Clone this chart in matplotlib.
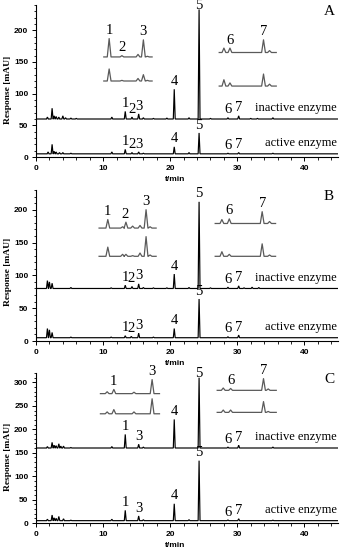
import matplotlib
matplotlib.use('Agg')
import matplotlib.pyplot as plt
from matplotlib.ticker import MultipleLocator

# ---------------- data ----------------
XMAX = 45

# Panel A
A_inact_base = 60
A_inact_t = [1.7, 2.4, 2.7, 3.0, 3.4, 4.0, 4.4, 5.2, 6.0, 11.3, 13.3, 14.3, 15.3, 16.0, 17.5, 19.5, 20.6, 22.8, 24.3, 26.0, 28.6, 30.2, 32.0, 33.0, 35.3]
A_inact_h = [3, 17, 5, 4, 3, 5, 2, 1.5, 1, 3, 12, 3, 8, 2, 1, 1.5, 47, 2, 173, 1, 2, 5, 1, 1, 2]
A_act_base = 5
A_act_t = [1.8, 2.4, 2.7, 3.0, 3.5, 4.0, 5.2, 11.3, 13.3, 14.3, 15.3, 16.0, 20.6, 22.8, 24.3, 28.6, 30.2, 35.3]
A_act_h = [3, 15, 4, 3, 2, 2, 1, 3, 7, 2, 3, 1, 11, 2, 33, 1, 2, 1]
A_lab_t = [13.3, 14.3, 15.3, 20.6, 24.3, 28.6, 30.2]
A_lab_txt = ['1', '2', '3', '4', '5', '6', '7']
# insets A (left / right), upper and lower traces
A_L_range = [10.1, 17.3]
A_L_t = [10.9, 12.8, 15.2, 16.0, 16.6]
A_L_up_base, A_L_up_h = 158, [29, 2, 4, 27, 1]
A_L_lo_base, A_L_lo_h = 120, [19, 1, 4, 10, 1]
A_L_lab_t, A_L_lab_txt = [10.9, 12.8, 16.0], ['1', '2', '3']
A_R_range = [27.3, 35.8]
A_R_t = [28.0, 28.9, 33.9, 34.8]
A_R_up_base, A_R_up_h = 165, [7, 7, 20, 3]
A_R_lo_base, A_R_lo_h = 112, [10, 5, 19, 3]
A_R_lab_t, A_R_lab_txt = [28.9, 33.9], ['6', '7']

# Panel B
B_inact_base = 80
B_inact_t = [1.7, 2.0, 2.4, 5.2, 11.2, 13.3, 14.3, 15.3, 16.0, 17.5, 19.5, 20.6, 22.8, 24.3, 26.0, 28.6, 30.2, 31.0, 32.2, 33.2]
B_inact_h = [12, 10, 8, 1.5, 1, 5, 3, 7, 1.5, 1, 1, 22, 1.5, 132, 1, 2, 4, 1, 2, 1.5]
B_act_base = 5
B_act_t = [1.7, 2.0, 2.4, 5.2, 11.2, 13.3, 14.2, 15.3, 17.5, 20.6, 24.3, 28.6, 30.2]
B_act_h = [14, 12, 8, 1, 1, 3, 2, 7, 1, 14, 59, 1.5, 4]
B_lab_t = [13.3, 14.2, 15.3, 20.6, 24.3, 28.6, 30.2]
B_lab_txt = ['1', '2', '3', '4', '5', '6', '7']
B_L_range = [9.4, 17.9]
B_L_t = [10.7, 12.9, 13.4, 14.4, 15.5, 16.4, 17.0]
B_L_up_base, B_L_up_h = 172, [13, 2, 9, 3, 4, 28, 2]
B_L_lo_base, B_L_lo_h = 129, [14, 3, 3, 1, 5, 30, 2]
B_L_lab_t, B_L_lab_txt = [10.7, 13.2, 16.4], ['1', '2', '3']
B_R_range = [26.7, 35.7]
B_R_t = [27.7, 28.8, 33.7, 34.8]
B_R_up_base, B_R_up_h = 179, [6, 7, 18, 3]
B_R_lo_base, B_R_lo_h = 129, [7, 3, 19, 2]
B_R_lab_t, B_R_lab_txt = [28.8, 33.7], ['6', '7']

# Panel C
C_inact_base = 160
C_inact_t = [1.7, 2.4, 2.7, 3.0, 3.4, 3.7, 4.1, 5.2, 11.3, 13.3, 15.3, 16.0, 20.6, 24.3, 28.6, 30.2, 35.3]
C_inact_h = [3, 12, 6, 5, 9, 4, 4, 1, 3, 29, 8, 2, 61, 150, 2, 6, 2]
C_act_base = 5
C_act_t = [1.7, 2.4, 2.7, 3.0, 3.4, 4.1, 5.2, 11.3, 13.3, 15.3, 16.0, 20.6, 22.8, 24.3, 28.6, 30.2, 35.3]
C_act_h = [3, 12, 6, 5, 9, 4, 1, 3, 22, 10, 2, 36, 2, 128, 1.5, 4, 1]
C_lab_t = [13.3, 15.3, 20.6, 24.3, 28.6, 30.2]
C_lab_txt = ['1', '3', '4', '5', '6', '7']
C_L_range = [9.6, 18.4]
C_L_t = [10.6, 11.6, 14.6, 17.3]
C_L_up_base, C_L_up_h = 276, [4, 9, 3, 30]
C_L_lo_base, C_L_lo_h = 233, [4, 9, 4, 32]
C_L_lab_t, C_L_lab_txt = [11.6, 17.3], ['1', '3']
C_R_range = [27.0, 35.8]
C_R_t = [27.9, 29.0, 33.9, 34.6]
C_R_up_base, C_R_up_h = 283, [5, 4, 25, 3]
C_R_lo_base, C_R_lo_h = 236, [5, 5, 23, 2]
C_R_lab_t, C_R_lab_txt = [29.0, 33.9], ['6', '7']

panel_letters = ['A', 'B', 'C']
y_max = [240, 230, 320]
trace_names = ['inactive enzyme', 'active enzyme']

# ---------------- drawing ----------------
SERIF = 'Liberation Serif'
SANS = 'Liberation Sans'

fig = plt.figure(figsize=(3.42, 5.5), dpi=100)
W, H = 342, 550
ax_px = [(5, 157, 0.44), (190, 341, 0.46), (373, 523, 0.44)]


def spikes(ts, hs, base, x0, x1, w):
    xs, ys = [x0], [base]
    for t, h in sorted(zip(ts, hs)):
        xs += [t - w, t, t + w]
        ys += [base, base + h, base]
    xs.append(x1)
    ys.append(base)
    return xs, ys


def top_of(t, ts, hs, base):
    i = min(range(len(ts)), key=lambda k: abs(ts[k] - t))
    return base + hs[i]


panels = [
    dict(inact=(A_inact_t, A_inact_h, A_inact_base), act=(A_act_t, A_act_h, A_act_base),
         lab=(A_lab_t, A_lab_txt),
         insets=[(A_L_range, A_L_t, A_L_up_base, A_L_up_h, A_L_lo_base, A_L_lo_h, A_L_lab_t, A_L_lab_txt),
                 (A_R_range, A_R_t, A_R_up_base, A_R_up_h, A_R_lo_base, A_R_lo_h, A_R_lab_t, A_R_lab_txt)]),
    dict(inact=(B_inact_t, B_inact_h, B_inact_base), act=(B_act_t, B_act_h, B_act_base),
         lab=(B_lab_t, B_lab_txt),
         insets=[(B_L_range, B_L_t, B_L_up_base, B_L_up_h, B_L_lo_base, B_L_lo_h, B_L_lab_t, B_L_lab_txt),
                 (B_R_range, B_R_t, B_R_up_base, B_R_up_h, B_R_lo_base, B_R_lo_h, B_R_lab_t, B_R_lab_txt)]),
    dict(inact=(C_inact_t, C_inact_h, C_inact_base), act=(C_act_t, C_act_h, C_act_base),
         lab=(C_lab_t, C_lab_txt),
         insets=[(C_L_range, C_L_t, C_L_up_base, C_L_up_h, C_L_lo_base, C_L_lo_h, C_L_lab_t, C_L_lab_txt),
                 (C_R_range, C_R_t, C_R_up_base, C_R_up_h, C_R_lo_base, C_R_lo_h, C_R_lab_t, C_R_lab_txt)]),
]

for k, p in enumerate(panels):
    top, bot, ylab_y = ax_px[k]
    ax = fig.add_axes([36 / W, 1 - bot / H, (338 - 36) / W, (bot - top) / H])
    ax.set_xlim(0, XMAX)
    ax.set_ylim(0, y_max[k])

    for key, name in zip(['inact', 'act'], trace_names):
        ts, hs, base = p[key]
        xs, ys = spikes(ts, hs, base, 0, XMAX, 0.14)
        ax.plot(xs, ys, color='black', lw=0.85, solid_joinstyle='miter')
        lt, ltxt = p['lab']
        for t, s in zip(lt, ltxt):
            ly = min(top_of(t, ts, hs, base), 0.945 * y_max[k])
            ax.annotate(s, xy=(t, ly), xytext=(0, 1), textcoords='offset points',
                        ha='center', va='bottom', fontsize=10.5, family=SERIF, annotation_clip=False)
        ax.annotate(name, xy=(XMAX, base), xytext=(-1, 3.5), textcoords='offset points',
                    ha='right', va='bottom', fontsize=9, family=SERIF)

    for rng, ts, ub, uh, lb, lh, labt, labtxt in p['insets']:
        for base, hs in ((ub, uh), (lb, lh)):
            xs, ys = spikes(ts, hs, base, rng[0], rng[1], 0.28)
            ax.plot(xs, ys, color='#5a5a5a', lw=0.9)
        for t, s in zip(labt, labtxt):
            ax.annotate(s, xy=(t, top_of(t, ts, uh, ub)), xytext=(0, 1), textcoords='offset points',
                        ha='center', va='bottom', fontsize=10.5, family=SERIF)

    ax.text(0.97, 0.955, panel_letters[k], transform=ax.transAxes, ha='center', va='center',
            fontsize=11, family=SERIF)

    for s in ['top', 'right']:
        ax.spines[s].set_visible(False)
    for s in ['left', 'bottom']:
        ax.spines[s].set_linewidth(0.8)
    ax.xaxis.set_major_locator(MultipleLocator(10))
    ax.xaxis.set_minor_locator(MultipleLocator(2))
    ax.yaxis.set_major_locator(MultipleLocator(50))
    ax.yaxis.set_minor_locator(MultipleLocator(10))
    ax.tick_params(which='major', length=3, width=0.7, direction='out', pad=2.5)
    ax.tick_params(which='minor', length=1.8, width=0.6, direction='out')
    for lbl in ax.get_xticklabels() + ax.get_yticklabels():
        lbl.set_fontsize(6)
        lbl.set_fontweight('bold')
        lbl.set_family(SANS)
    ax.set_xlabel('t/min', fontsize=6, fontweight='bold', family=SANS)
    ax.xaxis.set_label_coords(0.46, -0.125)
    ax.set_ylabel('Response [mAU]', fontsize=6.8, fontweight='bold', family=SERIF)
    ax.yaxis.set_label_coords(-0.078, ylab_y)

fig.savefig('out.png', dpi=100)
